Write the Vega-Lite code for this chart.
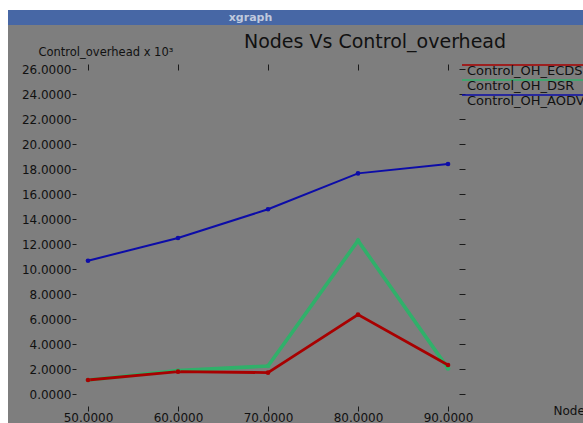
{
  "$schema": "https://vega.github.io/schema/vega-lite/v6.json",
  "background": "white",
  "padding": {"left": 8, "top": 10, "right": 0, "bottom": 0},
  "spacing": 0,
  "config": {"view": {"stroke": null}, "font": "DejaVu Sans"},
  "resolve": {"scale": {"color": "independent"}},
  "vconcat": [
    {
      "width": 575,
      "height": 15,
      "view": {"fill": "#4767a5", "stroke": null},
      "data": {"values": [{"label": "xgraph"}]},
      "mark": {"type": "text", "font": "DejaVu Sans", "fontWeight": "bold", "fontSize": 11, "color": "#bfc9dd", "dx": -45, "baseline": "middle"},
      "encoding": {"text": {"field": "label"}}
    },
    {
      "width": 575,
      "height": 398,
      "view": {"fill": "#7e7e7e", "stroke": null},
      "data": {
        "values": [
          {"nodes": 50, "overhead": 10.66, "series": "Control_OH_AODV"},
          {"nodes": 60, "overhead": 12.48, "series": "Control_OH_AODV"},
          {"nodes": 70, "overhead": 14.78, "series": "Control_OH_AODV"},
          {"nodes": 80, "overhead": 17.65, "series": "Control_OH_AODV"},
          {"nodes": 90, "overhead": 18.4, "series": "Control_OH_AODV"},
          {"nodes": 50, "overhead": 1.12, "series": "Control_OH_DSR"},
          {"nodes": 60, "overhead": 1.87, "series": "Control_OH_DSR"},
          {"nodes": 70, "overhead": 2.24, "series": "Control_OH_DSR"},
          {"nodes": 80, "overhead": 12.27, "series": "Control_OH_DSR"},
          {"nodes": 90, "overhead": 2.05, "series": "Control_OH_DSR"},
          {"nodes": 50, "overhead": 1.12, "series": "Control_OH_ECDS"},
          {"nodes": 60, "overhead": 1.79, "series": "Control_OH_ECDS"},
          {"nodes": 70, "overhead": 1.71, "series": "Control_OH_ECDS"},
          {"nodes": 80, "overhead": 6.35, "series": "Control_OH_ECDS"},
          {"nodes": 90, "overhead": 2.32, "series": "Control_OH_ECDS"}
        ]
      },
      "layer": [
        {
          "mark": {"type": "line"},
          "encoding": {
            "x": {
              "field": "nodes", "type": "quantitative",
              "scale": {"domain": [41.111, 105], "nice": false, "zero": false},
              "axis": {
                "orient": "bottom", "offset": -17, "values": [50, 60, 70, 80, 90], "format": ".4f",
                "domain": false, "grid": false, "tickSize": 5, "tickColor": "#1a1a1a",
                "labelFont": "DejaVu Sans", "labelFontSize": 12, "labelColor": "#111111", "labelPadding": 1,
                "labelOverlap": false, "labelFlush": false,
                "title": "Nodes", "titleX": 545, "titleY": 4, "titleAlign": "left", "titleBaseline": "middle",
                "titleFont": "DejaVu Sans", "titleFontSize": 12, "titleFontWeight": "normal", "titleColor": "#111111"
              }
            },
            "y": {
              "field": "overhead", "type": "quantitative",
              "scale": {"domain": [-2.32, 29.52], "nice": false, "zero": false},
              "axis": {
                "orient": "left", "offset": -68, "values": [0, 2, 4, 6, 8, 10, 12, 14, 16, 18, 20, 22, 24, 26], "format": ".4f",
                "domain": false, "grid": false, "tickSize": 4, "tickColor": "#1a1a1a",
                "labelFont": "DejaVu Sans", "labelFontSize": 12, "labelColor": "#111111", "labelPadding": 1,
                "labelOverlap": false, "labelFlush": false,
                "title": "Control_overhead x 10³", "titleAngle": 0, "titleX": -38, "titleY": 27,
                "titleAlign": "left", "titleBaseline": "middle",
                "titleFont": "DejaVu Sans", "titleFontSize": 11.5, "titleFontWeight": "normal", "titleColor": "#111111"
              }
            },
            "color": {
              "field": "series", "type": "nominal",
              "scale": {"domain": ["Control_OH_ECDS", "Control_OH_DSR", "Control_OH_AODV"], "range": ["#a80000", "#30b06a", "#0c0ca8"]},
              "legend": {
                "orient": "none", "legendX": 452.5, "legendY": 39.5, "title": null, "padding": 0,
                "symbolType": "M -1 -1.2 H 24", "symbolSize": 100, "symbolStrokeWidth": 1.5,
                "labelFont": "DejaVu Sans", "labelFontSize": 13, "labelColor": "#111111", "labelOffset": -6.5,
                "rowPadding": -2, "labelLimit": 300
              }
            },
            "strokeWidth": {
              "field": "series", "type": "nominal",
              "scale": {"domain": ["Control_OH_AODV", "Control_OH_ECDS", "Control_OH_DSR"], "range": [2, 3.6]},
              "legend": null
            }
          }
        },
        {
          "mark": {"type": "point", "filled": true, "size": 22, "opacity": 1},
          "encoding": {
            "x": {"field": "nodes", "type": "quantitative", "scale": {"domain": [41.111, 105], "nice": false, "zero": false}, "axis": null},
            "y": {"field": "overhead", "type": "quantitative", "scale": {"domain": [-2.32, 29.52], "nice": false, "zero": false}, "axis": null},
            "color": {
              "field": "series", "type": "nominal",
              "scale": {"domain": ["Control_OH_ECDS", "Control_OH_DSR", "Control_OH_AODV"], "range": ["#a80000", "#30b06a", "#0c0ca8"]},
              "legend": {
                "orient": "none", "legendX": 452.5, "legendY": 39.5, "title": null, "padding": 0,
                "symbolType": "M -1 -1.2 H 24", "symbolSize": 100, "symbolStrokeWidth": 1.5,
                "labelFont": "DejaVu Sans", "labelFontSize": 13, "labelColor": "#111111", "labelOffset": -6.5,
                "rowPadding": -2, "labelLimit": 300
              }
            }
          }
        },
        {
          "mark": {"type": "point", "opacity": 0},
          "encoding": {
            "x": {
              "field": "nodes", "type": "quantitative",
              "scale": {"domain": [41.111, 105], "nice": false, "zero": false},
              "axis": {
                "orient": "top", "offset": -45, "values": [50, 60, 70, 80, 90],
                "domain": false, "grid": false, "labels": false, "tickSize": 6, "tickColor": "#1a1a1a",
                "title": "Nodes Vs Control_overhead", "titleX": 366.5, "titleY": -23, "titleAlign": "center",
                "titleBaseline": "alphabetic", "titleFont": "DejaVu Sans", "titleFontSize": 19,
                "titleFontWeight": "normal", "titleColor": "#111111"
              }
            },
            "y": {
              "field": "overhead", "type": "quantitative",
              "scale": {"domain": [-2.32, 29.52], "nice": false, "zero": false},
              "axis": {
                "orient": "right", "offset": -124, "values": [0, 2, 4, 6, 8, 10, 12, 14, 16, 18, 20, 22, 24, 26],
                "domain": false, "grid": false, "labels": false, "tickSize": 6, "tickColor": "#1a1a1a", "title": null
              }
            }
          }
        }
      ],
      "resolve": {"axis": {"x": "independent", "y": "independent"}}
    }
  ]
}
